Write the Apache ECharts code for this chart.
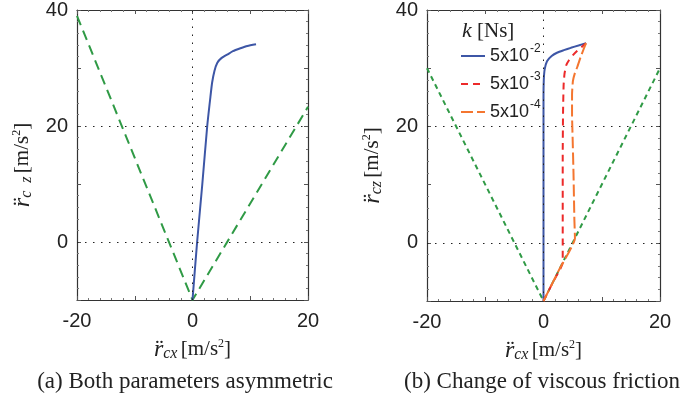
<!DOCTYPE html>
<html><head><meta charset="utf-8">
<script src="https://cdn.jsdelivr.net/npm/echarts@6/dist/echarts.min.js"></script>
<style>html,body{margin:0;padding:0;background:#fff}#c{width:683px;height:394px}</style>
</head><body><div id="c"></div>
<script>
// ---- data ----
const greenA = [[-20,39],[0,-10],[20,23.3]];
const blueA = [[0,-10],[0.8,0],[1.7,10],[2.55,20],[3.1,25],[3.4,27.5],[3.8,29.5],[4.3,30.9],[5,31.7],[6,32.3],[7,32.9],[8.3,33.4],[9.5,33.8],[11,34.1]];
const greenB = [[-20,30],[0,-10],[20,30]];
const blueB = [[0,-10],[0,10],[0,25],[0.05,28],[0.2,29.8],[0.6,31.2],[1.4,32.1],[2.4,32.7],[3.5,33.1],[4.7,33.5],[6,33.9],[7.3,34.3]];
const redB = [[0,-10],[1.6,-6.8],[3.3,-3.4],[3.3,5],[3.3,15],[3.35,22],[3.45,27],[3.6,29],[3.9,30.5],[4.4,31.4],[5.1,32.3],[5.8,33],[6.6,33.7],[7.3,34.3]];
const orangeB = [[0,-10],[2.7,-4.6],[5.4,0.8],[5.3,4],[5.15,12],[5.0,18],[4.9,22],[4.9,25.5],[5.05,27.8],[5.4,29.2],[5.8,30.2],[6.4,32],[6.9,33.3],[7.3,34.3]];
const legendNames = ['5x10{sup|-2}','5x10{sup|-3}','5x10{sup|-4}'];
const xTickLabels = [-20, 0, 20];
const yTickLabels = [0, 20, 40];
const captions = ['(a) Both parameters asymmetric','(b) Change of viscous friction'];

const C = {blue:'#3d56a6', green:'#2f9a45', red:'#ec2a2a', orange:'#f47630', axis:'#333'};
const sans = 'Liberation Sans, Arial, sans-serif';
const serif = 'Liberation Serif, Times New Roman, serif';

const grids = [
  {left:77, top:8, width:231, height:292},
  {left:427, top:9, width:233, height:292}
];

const nameRich = {
  r:{fontFamily:serif, fontStyle:'italic', fontSize:24, color:'#222'},
  s:{fontFamily:serif, fontStyle:'italic', fontSize:16, color:'#222', padding:[9,0,0,0]},
  u:{fontFamily:serif, fontSize:21, color:'#222'},
  p:{fontFamily:serif, fontSize:12, color:'#222', padding:[0,0,12,0]}
};

function xAx(gi, pos, main){
  return {
    type:'value', gridIndex:gi, position:pos, min:-20, max:20, interval:10,
    axisLine:{show:true, onZero:false, lineStyle:{color:C.axis, width:1.2}},
    axisTick:{show:true, inside:true, length:4, lineStyle:{color:'#555'}},
    minorTick:{show:true, splitNumber:5, length:2, lineStyle:{color:'#777'}},
    splitLine:{show:false},
    axisLabel:{show:main, color:'#222', fontFamily:sans, fontSize:20, margin:11,
      formatter:v=> xTickLabels.includes(v)? String(v):''},
    name: main? '{r|r̈}{s|cx} {u|[m/s}{p|2}{u|]}':'',
    nameLocation:'middle', nameGap:37,
    nameTextStyle:{rich:nameRich}
  };
}
function yAx(gi, pos, main, sub){
  return {
    type:'value', gridIndex:gi, position:pos, min:-10, max:40, interval:10,
    axisLine:{show:true, onZero:false, lineStyle:{color:C.axis, width:1.2}},
    axisTick:{show:true, inside:true, length:4, lineStyle:{color:'#555'}},
    minorTick:{show:true, splitNumber:5, length:2, lineStyle:{color:'#777'}},
    splitLine:{show:false},
    axisLabel:{show:main, color:'#222', fontFamily:sans, fontSize:20, margin:9,
      formatter:v=> yTickLabels.includes(v)? String(v):''},
    name: main? '{r|r̈}{s|'+sub+'} {u|[m/s}{p|2}{u|]}':'',
    nameLocation:'middle', nameGap:42, nameRotate:90,
    nameTextStyle:{rich:nameRich, padding:[0,20,0,0]}
  };
}

const dotted = {type:[1.5,6.5], color:'#222', width:1};
function refLines(){
  return {silent:true, symbol:'none', label:{show:false}, lineStyle:dotted,
    data:[{yAxis:0},{yAxis:20},{xAxis:0}]};
}

const series = [
  {type:'line', name:'gA', xAxisIndex:0, yAxisIndex:0, data:greenA, symbol:'none',
   lineStyle:{color:C.green, width:2, type:[10,6]}, markLine:refLines(), z:3},
  {type:'line', name:'bA', xAxisIndex:0, yAxisIndex:0, data:blueA, symbol:'none', smooth:0.2,
   lineStyle:{color:C.blue, width:2}, z:4},
  {type:'line', name:'gB', xAxisIndex:2, yAxisIndex:2, data:greenB, symbol:'none',
   lineStyle:{color:C.green, width:2, type:[5,4]}, markLine:refLines(), z:3},
  {type:'line', name:legendNames[0], xAxisIndex:2, yAxisIndex:2, data:blueB, symbol:'none', smooth:0.2,
   color:C.blue, lineStyle:{color:C.blue, width:2}, z:4},
  {type:'line', name:legendNames[1], xAxisIndex:2, yAxisIndex:2, data:redB, symbol:'none', smooth:0.15,
   color:C.red, lineStyle:{color:C.red, width:2, type:[7,5]}, z:5},
  {type:'line', name:legendNames[2], xAxisIndex:2, yAxisIndex:2, data:orangeB, symbol:'none', smooth:0.15,
   color:C.orange, lineStyle:{color:C.orange, width:2, type:[12,4]}, z:6}
];

const chart = echarts.init(document.getElementById('c'));
chart.setOption({
  backgroundColor:'#fff',
  animation:false,
  grid:grids,
  xAxis:[xAx(0,'bottom',true), xAx(0,'top',false), xAx(1,'bottom',true), xAx(1,'top',false)],
  yAxis:[yAx(0,'left',true,'c  z'), yAx(0,'right',false,''), yAx(1,'left',true,'cz'), yAx(1,'right',false,'')],
  legend:{
    data:legendNames, orient:'vertical', left:455, top:38, itemWidth:24, itemHeight:12, itemGap:2,
    itemStyle:{opacity:0},
    textStyle:{fontFamily:sans, fontSize:18, color:'#222', lineHeight:18,
      rich:{sup:{fontFamily:sans, fontSize:12, lineHeight:12, color:'#222', padding:[0,0,14,1]}}}
  },
  title:[
    {text:'{k|k} [Ns]', left:457, top:15, textStyle:{fontFamily:serif, fontSize:21, fontWeight:'normal', color:'#222',
      rich:{k:{fontFamily:serif, fontStyle:'italic', fontSize:22, color:'#222'}}}},
    {text:captions[0], left:180, top:365, textAlign:'center', textStyle:{fontFamily:serif, fontSize:23, fontWeight:'normal', color:'#222'}},
    {text:captions[1], left:537, top:365, textAlign:'center', textStyle:{fontFamily:serif, fontSize:23, fontWeight:'normal', color:'#222'}}
  ],
  series:series
});
</script></body></html>
